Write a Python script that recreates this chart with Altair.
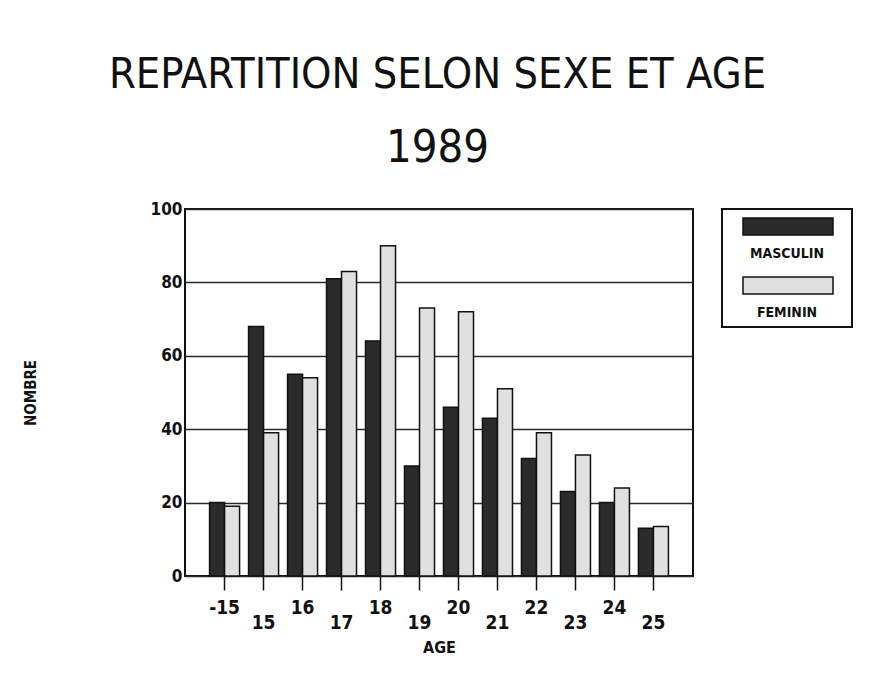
import json
import altair as alt
import pandas as pd

# ---- data ----
ages = ["-15", "15", "16", "17", "18", "19", "20", "21", "22", "23", "24", "25"]
series = ["MASCULIN", "FEMININ"]
masculin = [20, 68, 55, 81, 64, 30, 46, 43, 32, 23, 20, 13]
feminin = [19, 39, 54, 83, 90, 73, 72, 51, 39, 33, 24, 13.5]
y_ticks = [0, 20, 40, 60, 80, 100]
high_labels = ages[0::2]   # labels drawn on the upper row of the staggered axis

rows = []
for i, a in enumerate(ages):
    rows.append({"age": a, "series": series[0], "value": masculin[i]})
    rows.append({"age": a, "series": series[1], "value": feminin[i]})
df = pd.DataFrame(rows)

FONT = "'DejaVu Sans Condensed', 'Liberation Sans', sans-serif"
INK = "#111111"
color_scale = alt.Scale(domain=series, range=["#2b2b2b", "#e0e0e0"])

test_high = "indexof(" + json.dumps(high_labels) + ", datum.value) >= 0"

x = alt.X(
    "age:N", sort=ages, title="AGE",
    scale=alt.Scale(domain=ages, paddingInner=0.23, paddingOuter=0.63),
    axis=alt.Axis(
        labelAngle=0, tickSize=14, tickColor=INK, tickWidth=1.5, domain=False,
        labelPadding={"condition": {"test": test_high, "value": 8}, "value": 23},
        labelFont=FONT, labelFontSize=19, labelFontWeight="bold", labelColor=INK,
        titleFont=FONT, titleFontSize=16, titleFontWeight="bold", titleColor=INK,
        titlePadding=7,
    ),
)

y = alt.Y(
    "value:Q", title="NOMBRE",
    scale=alt.Scale(domain=[0, 100], nice=False),
    axis=alt.Axis(
        values=y_ticks, grid=True, gridColor="#2a2a2a", gridWidth=1.6,
        ticks=False, domain=False,
        labelFont=FONT, labelFontSize=17, labelFontWeight="bold", labelColor=INK,
        labelPadding=3,
        titleFont=FONT, titleFontSize=15, titleFontWeight="bold", titleColor=INK,
        titlePadding=112,
    ),
)

main = alt.Chart(df).mark_bar(stroke=INK, strokeWidth=1.5).encode(
    x=x,
    xOffset=alt.XOffset("series:N", sort=series,
                        scale=alt.Scale(domain=series, paddingInner=0, paddingOuter=0)),
    y=y,
    color=alt.Color("series:N", scale=color_scale, legend=None),
).properties(width=508, height=367)

# ---- custom legend box ----
leg_df = pd.DataFrame({"series": series})
leg_y = alt.Y("series:N", sort=series, axis=None,
              scale=alt.Scale(domain=series, paddingInner=0, paddingOuter=0))
swatch = alt.Chart(leg_df).mark_bar(height=17, yOffset=-12, stroke=INK, strokeWidth=1.5).encode(
    x=alt.value(21), x2=alt.value(111), y=leg_y,
    color=alt.Color("series:N", scale=color_scale, legend=None),
)
leg_text = alt.Chart(leg_df).mark_text(
    yOffset=15, font=FONT, fontSize=14, fontWeight="bold", color=INK
).encode(x=alt.value(65), y=leg_y, text="series:N")
legend = (swatch + leg_text).properties(width=130, height=118)

chart = alt.hconcat(main, legend, spacing=29, bounds="flush").properties(
    title=alt.TitleParams(
        text="REPARTITION SELON SEXE ET AGE", subtitle="1989", anchor="middle",
        font=FONT, fontSize=43, fontWeight="normal", color=INK,
        subtitleFont=FONT, subtitleFontSize=45, subtitleColor=INK,
        subtitlePadding=29, offset=28,
    ),
    padding={"left": 14, "top": 46, "right": 10, "bottom": 5},
    background="white",
).configure_view(stroke=INK, strokeWidth=2)

chart.save("out.html", embed_options={"renderer": "svg", "actions": False})
